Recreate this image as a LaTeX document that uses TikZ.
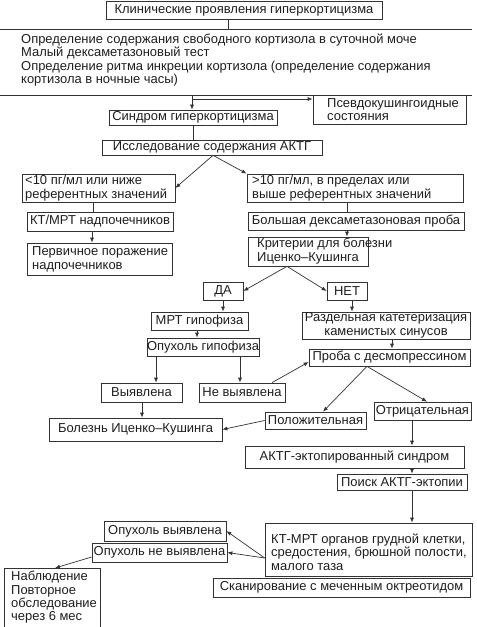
\documentclass[tikz,border=0pt]{standalone}
\usepackage{fontspec}
\setmainfont{Liberation Sans}
\usetikzlibrary{arrows.meta}
\definecolor{ln}{HTML}{333333}
\definecolor{tx}{HTML}{1E1E1E}
\newcommand\fsz{\fontsize{13}{13.4}\selectfont}
\begin{document}
\begin{tikzpicture}[x=1bp,y=-1bp,
  box/.style={draw=ln, line width=0.7bp, fill=white, inner sep=0pt, align=center, text=tx, font=\fsz},
  tl/.style={inner sep=0pt, align=left, text=tx, font=\fsz, anchor=west},
  ln0/.style={draw=ln, line width=0.7bp},
  arr/.style={ln0, -{Latex[length=5bp,width=4bp]}}]
\useasboundingbox[fill=white] (0,0) rectangle (477,627);
% nodes
\node[box,minimum width=276bp,minimum height=18bp] (top) at (244,10) {Клинические проявления гиперкортицизма};
\node[inner sep=0pt,minimum width=474bp,minimum height=65bp] (wide) at (235,62.5) {};
\draw[ln0] (wide.north west) -- (wide.north east);
\draw[ln0] (wide.south west) -- (wide.south east);
\node[tl] (widet) at (21,60) {Определение содержания свободного кортизола в суточной моче\\Малый дексаметазоновый тест\\Определение ритма инкреции кортизола (определение содержания\\кортизола в ночные часы)};
\node[box,minimum width=153bp,minimum height=29bp] (pseudo) at (389.5,109.5) {};
\node[tl] (pseudot) at (327,109.5) {Псевдокушингоидные\\состояния};
\node[box,minimum width=168bp,minimum height=15bp] (sind) at (193,117.5) {Синдром гиперкортицизма};
\node[box,minimum width=220bp,minimum height=15bp] (issl) at (212,147.5) {Исследование содержания АКТГ};
\node[box,minimum width=153bp,minimum height=28bp] (lt10) at (98.5,188) {};
\node[tl] (lt10t) at (25,188) {<10 пг/мл или ниже\\референтных значений};
\node[box,minimum width=216bp,minimum height=28bp] (gt10) at (355,188) {};
\node[tl] (gt10t) at (252,188) {>10 пг/мл, в пределах или\\выше референтных значений};
\node[box,minimum width=146bp,minimum height=19bp] (kt) at (100,221.5) {КТ/МРТ надпочечников};
\node[box,minimum width=145bp,minimum height=32bp] (perv) at (99.5,259) {};
\node[tl] (pervt) at (32,259.5) {Первичное поражение\\надпочечников};
\node[box,minimum width=216bp,minimum height=18bp] (bolsh) at (356,221) {Большая дексаметазоновая проба};
\node[box,minimum width=120bp,minimum height=29bp] (krit) at (308,251.5) {};
\node[tl] (kritt) at (257,251) {Критерии для болезни\\Иценко–Кушинга};
\node[box,minimum width=40bp,minimum height=18bp] (da) at (223,291) {ДА};
\node[box,minimum width=40bp,minimum height=18bp] (net) at (347,291) {НЕТ};
\node[box,minimum width=97bp,minimum height=18bp] (mrt) at (199.5,321) {МРТ гипофиза};
\node[box,minimum width=168bp,minimum height=27bp] (razd) at (386,325.5) {Раздельная катетеризация\\каменистых синусов};
\node[box,minimum width=108bp,minimum height=18bp] (opgip) at (203,347) {Опухоль гипофиза};
\node[box,minimum width=161bp,minimum height=17bp] (proba) at (389.5,357.5) {Проба с десмопрессином};
\node[box,minimum width=81bp,minimum height=19bp] (vyyav) at (141.5,392.5) {Выявлена};
\node[box,minimum width=86bp,minimum height=19bp] (nevyyav) at (242,392.5) {Не выявлена};
\node[box,minimum width=101bp,minimum height=17bp] (polozh) at (315.5,420.5) {Положительная};
\node[box,minimum width=97bp,minimum height=18bp] (otric) at (422.5,411) {Отрицательная};
\node[box,minimum width=173bp,minimum height=23bp] (bolezn) at (135.5,429.5) {Болезнь Иценко–Кушинга};
\node[box,minimum width=219bp,minimum height=22bp] (aktg) at (354.5,457) {АКТГ-эктопированный синдром};
\node[box,minimum width=130bp,minimum height=16bp] (poisk) at (402,482) {Поиск АКТГ-эктопии};
\node[box,minimum width=207bp,minimum height=53bp] (ktmrt) at (368.5,549.5) {};
\node[tl] (ktmrtt) at (271,552) {КТ-МРТ органов грудной клетки,\\средостения, брюшной полости,\\малого таза};
\node[box,minimum width=257bp,minimum height=19bp] (skan) at (341.5,587.5) {Сканирование с меченным октреотидом};
\node[box,minimum width=122bp,minimum height=20bp] (opvyy) at (165,531) {Опухоль выявлена};
\node[box,minimum width=135bp,minimum height=19bp] (opnev) at (159.5,552.5) {Опухоль не выявлена};
\node[box,anchor=north west,minimum width=96bp,minimum height=75bp] (nabl) at (4,568) {};
\node[tl,anchor=north west] (nablt) at (11,571) {Наблюдение\\Повторное\\обследование\\через 6 мес};
% connectors
\draw[ln0] (228,0 |- top.south) -- (228,0 |- wide.north);
\draw[arr] (192,0 |- wide.south) -- (192,0 |- sind.north);
\coordinate (j) at (192,99);
\draw[arr] (j) -- (j -| pseudo.west);
\draw[ln0] (sind.south) -- (sind.south |- issl.north);
\draw[arr] (213,0 |- issl.south) -- (lt10.east);
\draw[arr] (213,0 |- issl.south) -- (gt10.north west);
\draw[ln0] (93,0 |- lt10.south) -- (93,0 |- kt.north);
\draw[arr] (92,0 |- kt.south) -- (92,0 |- perv.north);
\draw[ln0] (347,0 |- gt10.south) -- (347,0 |- bolsh.north);
\draw[arr] (347,0 |- bolsh.south) -- (347,0 |- krit.north);
\draw[arr] (287,0 |- krit.south) -- (da.east);
\draw[arr] (287,0 |- krit.south) -- (net.west);
\draw[arr] (da.south) -- (da.south |- mrt.north);
\draw[arr] (352,0 |- net.south) -- (352,0 |- razd.north);
\draw[arr] (197,0 |- mrt.south) -- (197,0 |- opgip.north);
\draw[arr] (392,0 |- razd.south) -- (392,0 |- proba.north);
\draw[arr] (156,0 |- opgip.south) -- (156,0 |- vyyav.north);
\draw[arr] (240,0 |- opgip.south) -- (240,0 |- nevyyav.north);
\draw[arr] (272,0 |- nevyyav.north) -- (proba.west |- 0,362);
\draw[arr] (367,0 |- proba.south) -- (323,0 |- polozh.north);
\draw[arr] (367,0 |- proba.south) -- (427,0 |- otric.north);
\draw[arr] (142,0 |- vyyav.south) -- (142,0 |- bolezn.north);
\draw[arr] (polozh.west) -- (bolezn.east);
\draw[arr] (412,0 |- otric.south) -- (412,0 |- aktg.north);
\draw[arr] (412,0 |- aktg.south) -- (412,0 |- poisk.north);
\draw[arr] (412,0 |- poisk.south) -- (412,0 |- ktmrt.north);
\coordinate (k) at (ktmrt.west |- 0,558);
\draw[arr] (k) -- (opvyy.east);
\draw[arr] (k) -- (opnev.east);
\draw[arr] (opnev.west |- 0,557) -- (55,0 |- nabl.north);
\end{tikzpicture}
\end{document}
